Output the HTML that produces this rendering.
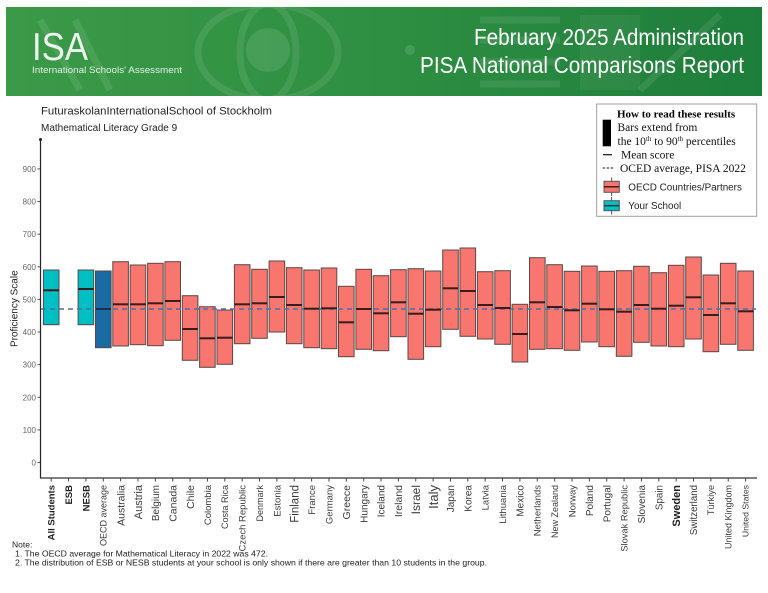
<!DOCTYPE html>
<html><head><meta charset="utf-8"><style>
html,body{margin:0;padding:0;background:#fff;}
svg{display:block;}
</style></head><body>
<svg width="768" height="593" viewBox="0 0 768 593" xmlns="http://www.w3.org/2000/svg">
<defs>
<linearGradient id="g" x1="0" y1="0" x2="1" y2="0">
<stop offset="0" stop-color="#3b9a48"/>
<stop offset="0.5" stop-color="#2e8f42"/>
<stop offset="1" stop-color="#1d7d3b"/>
</linearGradient>
</defs>
<rect width="768" height="593" fill="#fff"/>
<!-- Header banner -->
<rect x="6" y="7" width="756" height="89" fill="url(#g)"/>
<g fill="none" stroke="#ffffff" stroke-opacity="0.09" stroke-width="7">
<ellipse cx="268" cy="52" rx="70" ry="48"/>
<ellipse cx="268" cy="52" rx="28" ry="48"/>
<path d="M40 20 L80 90 M75 20 L110 90"/>
<path d="M480 20 L560 20 M480 40 L560 40 M480 62 L560 62 M480 84 L560 84"/>
<path d="M640 90 L720 15"/>
</g>
<circle cx="268" cy="50" r="22" fill="#fff" fill-opacity="0.1"/>
<circle cx="410" cy="50" r="5" fill="#fff" fill-opacity="0.12"/>
<rect x="580" y="15" width="60" height="75" fill="#fff" fill-opacity="0.05"/>
<text x="32" y="60" font-family="Liberation Sans, sans-serif" font-size="39" fill="#eef6ee" textLength="56" lengthAdjust="spacingAndGlyphs">ISA</text>
<text x="32" y="73" font-family="Liberation Sans, sans-serif" font-size="9.5" fill="#e4f0e4" textLength="150" lengthAdjust="spacingAndGlyphs">International Schools' Assessment</text>
<text x="744" y="45" text-anchor="end" font-family="Liberation Sans, sans-serif" font-size="23" fill="#fff" textLength="270" lengthAdjust="spacingAndGlyphs">February 2025 Administration</text>
<text x="744" y="73" text-anchor="end" font-family="Liberation Sans, sans-serif" font-size="23" fill="#fff" textLength="324" lengthAdjust="spacingAndGlyphs">PISA National Comparisons Report</text>

<!-- Titles -->
<text x="41" y="114.7" font-family="Liberation Sans, sans-serif" font-size="11.3" fill="#222" textLength="231" lengthAdjust="spacingAndGlyphs">FuturaskolanInternationalSchool of Stockholm</text>
<text x="41" y="130.8" font-family="Liberation Sans, sans-serif" font-size="10" fill="#222">Mathematical Literacy Grade 9</text>

<!-- Legend -->
<rect x="596.7" y="104" width="160" height="112.3" fill="#fff" stroke="#a0a0a0" stroke-width="1"/>
<text x="617" y="117.5" font-family="Liberation Serif, serif" font-size="11" font-weight="bold" fill="#000">How to read these results</text>
<rect x="602.7" y="119.7" width="8.3" height="26.6" fill="#000"/>
<text x="617.5" y="131" font-family="Liberation Serif, serif" font-size="11.5" fill="#111">Bars extend from</text>
<text x="617.5" y="145" font-family="Liberation Serif, serif" font-size="11.5" fill="#111">the 10<tspan font-size="7" dy="-4">th</tspan><tspan dy="4"> to 90</tspan><tspan font-size="7" dy="-4">th</tspan><tspan dy="4"> percentiles</tspan></text>
<line x1="603" y1="154.7" x2="612" y2="154.7" stroke="#111" stroke-width="1.2"/>
<text x="621" y="158.7" font-family="Liberation Serif, serif" font-size="11.5" fill="#111">Mean score</text>
<line x1="602.7" y1="168" x2="614" y2="168" stroke="#111" stroke-width="1.1" stroke-dasharray="2.4,1.6"/>
<text x="620" y="172" font-family="Liberation Serif, serif" font-size="11.5" fill="#111">OCED average, PISA 2022</text>
<line x1="611.6" y1="177.5" x2="611.6" y2="196" stroke="#555" stroke-width="1"/>
<rect x="604" y="181.3" width="15.3" height="11" fill="#f8766d" stroke="#555" stroke-width="1"/>
<line x1="604" y1="186.8" x2="619.3" y2="186.8" stroke="#3b1e1e" stroke-width="1.5"/>
<text x="628.3" y="190.5" font-family="Liberation Sans, sans-serif" font-size="9.9" fill="#222">OECD Countries/Partners</text>
<line x1="611.6" y1="197" x2="611.6" y2="214.5" stroke="#555" stroke-width="1"/>
<rect x="604" y="200.7" width="15.3" height="10" fill="#00bfc4" stroke="#555" stroke-width="1"/>
<line x1="604" y1="205.7" x2="619.3" y2="205.7" stroke="#1e3a3a" stroke-width="1.5"/>
<text x="628.3" y="209.2" font-family="Liberation Sans, sans-serif" font-size="9.9" fill="#222">Your School</text>

<!-- Y axis -->
<text transform="translate(17.5,308.7) rotate(-90)" text-anchor="middle" font-family="Liberation Sans, sans-serif" font-size="10" fill="#222">Proficiency Scale</text>
<g font-family="Liberation Sans, sans-serif" font-size="8" fill="#666" text-anchor="end">
<text x="36" y="465.5">0</text>
<text x="36" y="432.9">100</text>
<text x="36" y="400.3">200</text>
<text x="36" y="367.6">300</text>
<text x="36" y="335.0">400</text>
<text x="36" y="302.4">500</text>
<text x="36" y="269.8">600</text>
<text x="36" y="237.2">700</text>
<text x="36" y="204.5">800</text>
<text x="36" y="171.9">900</text>
</g>
<g stroke="#555" stroke-width="1">
<line x1="37.5" y1="462.5" x2="40.5" y2="462.5"/>
<line x1="37.5" y1="429.9" x2="40.5" y2="429.9"/>
<line x1="37.5" y1="397.3" x2="40.5" y2="397.3"/>
<line x1="37.5" y1="364.6" x2="40.5" y2="364.6"/>
<line x1="37.5" y1="332.0" x2="40.5" y2="332.0"/>
<line x1="37.5" y1="299.4" x2="40.5" y2="299.4"/>
<line x1="37.5" y1="266.8" x2="40.5" y2="266.8"/>
<line x1="37.5" y1="234.2" x2="40.5" y2="234.2"/>
<line x1="37.5" y1="201.5" x2="40.5" y2="201.5"/>
<line x1="37.5" y1="168.9" x2="40.5" y2="168.9"/>
</g>
<line x1="40.5" y1="139" x2="40.5" y2="478.5" stroke="#222" stroke-width="1.2"/>
<circle cx="40.5" cy="139.5" r="1.5" fill="#222"/>
<line x1="40" y1="478" x2="757" y2="478" stroke="#333" stroke-width="1.2"/>

<!-- Bars -->
<g stroke="#5a4848" stroke-width="1">
<rect x="43.4" y="270" width="15.6" height="54.7" fill="#00bfc4"/>
<rect x="78.1" y="270" width="15.6" height="54.7" fill="#00bfc4"/>
<rect x="95.5" y="271" width="15.6" height="76.7" fill="#1a6aa3"/>
<g fill="#f8766d">
<rect x="112.8" y="261.7" width="15.6" height="84.3"/>
<rect x="130.2" y="265" width="15.6" height="79.7"/>
<rect x="147.6" y="263.3" width="15.6" height="82.4"/>
<rect x="164.9" y="261.7" width="15.6" height="78.6"/>
<rect x="182.3" y="295.7" width="15.6" height="64.6"/>
<rect x="199.6" y="306.7" width="15.6" height="60.6"/>
<rect x="217.0" y="310" width="15.6" height="54.3"/>
<rect x="234.4" y="264.7" width="15.6" height="79"/>
<rect x="251.7" y="269.3" width="15.6" height="69"/>
<rect x="269.1" y="261" width="15.6" height="71"/>
<rect x="286.4" y="267.7" width="15.6" height="76"/>
<rect x="303.8" y="270" width="15.6" height="77.7"/>
<rect x="321.2" y="268" width="15.6" height="80.7"/>
<rect x="338.5" y="286.3" width="15.6" height="70.4"/>
<rect x="355.9" y="269.3" width="15.6" height="80"/>
<rect x="373.2" y="275.7" width="15.6" height="75"/>
<rect x="390.6" y="269.7" width="15.6" height="67"/>
<rect x="408.0" y="268.7" width="15.6" height="90.6"/>
<rect x="425.3" y="271" width="15.6" height="75.7"/>
<rect x="442.7" y="250" width="15.6" height="79.3"/>
<rect x="460.0" y="248" width="15.6" height="88.3"/>
<rect x="477.4" y="271.7" width="15.6" height="67.3"/>
<rect x="494.8" y="270.7" width="15.6" height="73.6"/>
<rect x="512.1" y="304.3" width="15.6" height="57.7"/>
<rect x="529.5" y="257.7" width="15.6" height="91.6"/>
<rect x="546.8" y="264.7" width="15.6" height="84"/>
<rect x="564.2" y="271.3" width="15.6" height="79"/>
<rect x="581.6" y="266" width="15.6" height="76"/>
<rect x="598.9" y="271.3" width="15.6" height="75.4"/>
<rect x="616.3" y="270.7" width="15.6" height="85.6"/>
<rect x="633.6" y="266.3" width="15.6" height="76"/>
<rect x="651.0" y="272.7" width="15.6" height="73.3"/>
<rect x="668.4" y="265.3" width="15.6" height="81.4"/>
<rect x="685.7" y="257" width="15.6" height="82"/>
<rect x="703.1" y="275" width="15.6" height="76.7"/>
<rect x="720.4" y="263.3" width="15.6" height="81"/>
<rect x="737.8" y="271" width="15.6" height="79.3"/>
</g>
</g>

<!-- OECD dashed line -->
<line x1="41" y1="309" x2="756" y2="309" stroke="#4f6fa8" stroke-width="1.4" stroke-dasharray="5,4"/>

<!-- Means -->
<g stroke="#3a1c1c" stroke-width="2">
<line x1="43.4" y1="290.3" x2="59" y2="290.3"/>
<line x1="78.1" y1="289" x2="93.7" y2="289"/>
<line x1="95.5" y1="309" x2="111.1" y2="309" stroke="#15324a"/>
<line x1="112.8" y1="304.3" x2="128.4" y2="304.3"/>
<line x1="130.2" y1="304.3" x2="145.8" y2="304.3"/>
<line x1="147.6" y1="303.3" x2="163.2" y2="303.3"/>
<line x1="164.9" y1="301" x2="180.5" y2="301"/>
<line x1="182.3" y1="329" x2="197.9" y2="329"/>
<line x1="199.6" y1="338.3" x2="215.2" y2="338.3"/>
<line x1="217.0" y1="337.7" x2="232.6" y2="337.7"/>
<line x1="234.4" y1="304.3" x2="250" y2="304.3"/>
<line x1="251.7" y1="303.3" x2="267.3" y2="303.3"/>
<line x1="269.1" y1="297" x2="284.7" y2="297"/>
<line x1="286.4" y1="305" x2="302" y2="305"/>
<line x1="303.8" y1="308.7" x2="319.4" y2="308.7"/>
<line x1="321.2" y1="308.3" x2="336.8" y2="308.3"/>
<line x1="338.5" y1="322.3" x2="354.1" y2="322.3"/>
<line x1="355.9" y1="309" x2="371.5" y2="309"/>
<line x1="373.2" y1="313.3" x2="388.8" y2="313.3"/>
<line x1="390.6" y1="302.3" x2="406.2" y2="302.3"/>
<line x1="408.0" y1="313.7" x2="423.6" y2="313.7"/>
<line x1="425.3" y1="309.7" x2="440.9" y2="309.7"/>
<line x1="442.7" y1="288.3" x2="458.3" y2="288.3"/>
<line x1="460.0" y1="291" x2="475.6" y2="291"/>
<line x1="477.4" y1="305" x2="493" y2="305"/>
<line x1="494.8" y1="308" x2="510.4" y2="308"/>
<line x1="512.1" y1="334" x2="527.7" y2="334"/>
<line x1="529.5" y1="302.3" x2="545.1" y2="302.3"/>
<line x1="546.8" y1="307" x2="562.4" y2="307"/>
<line x1="564.2" y1="310.3" x2="579.8" y2="310.3"/>
<line x1="581.6" y1="303.7" x2="597.2" y2="303.7"/>
<line x1="598.9" y1="309.3" x2="614.5" y2="309.3"/>
<line x1="616.3" y1="311.7" x2="631.9" y2="311.7"/>
<line x1="633.6" y1="305" x2="649.2" y2="305"/>
<line x1="651.0" y1="308.7" x2="666.6" y2="308.7"/>
<line x1="668.4" y1="305.7" x2="684" y2="305.7"/>
<line x1="685.7" y1="297.3" x2="701.3" y2="297.3"/>
<line x1="703.1" y1="315" x2="718.7" y2="315"/>
<line x1="720.4" y1="303.3" x2="736" y2="303.3"/>
<line x1="737.8" y1="311.3" x2="753.4" y2="311.3"/>
</g>

<!-- X ticks -->
<g stroke="#444" stroke-width="1">
<line x1="51.2" y1="478" x2="51.2" y2="481.5"/><line x1="68.56" y1="478" x2="68.56" y2="481.5"/><line x1="85.92" y1="478" x2="85.92" y2="481.5"/><line x1="103.28" y1="478" x2="103.28" y2="481.5"/><line x1="120.64" y1="478" x2="120.64" y2="481.5"/><line x1="138" y1="478" x2="138" y2="481.5"/><line x1="155.36" y1="478" x2="155.36" y2="481.5"/><line x1="172.72" y1="478" x2="172.72" y2="481.5"/><line x1="190.08" y1="478" x2="190.08" y2="481.5"/><line x1="207.44" y1="478" x2="207.44" y2="481.5"/><line x1="224.8" y1="478" x2="224.8" y2="481.5"/><line x1="242.16" y1="478" x2="242.16" y2="481.5"/><line x1="259.52" y1="478" x2="259.52" y2="481.5"/><line x1="276.88" y1="478" x2="276.88" y2="481.5"/><line x1="294.24" y1="478" x2="294.24" y2="481.5"/><line x1="311.6" y1="478" x2="311.6" y2="481.5"/><line x1="328.96" y1="478" x2="328.96" y2="481.5"/><line x1="346.32" y1="478" x2="346.32" y2="481.5"/><line x1="363.68" y1="478" x2="363.68" y2="481.5"/><line x1="381.04" y1="478" x2="381.04" y2="481.5"/><line x1="398.4" y1="478" x2="398.4" y2="481.5"/><line x1="415.76" y1="478" x2="415.76" y2="481.5"/><line x1="433.12" y1="478" x2="433.12" y2="481.5"/><line x1="450.48" y1="478" x2="450.48" y2="481.5"/><line x1="467.84" y1="478" x2="467.84" y2="481.5"/><line x1="485.2" y1="478" x2="485.2" y2="481.5"/><line x1="502.56" y1="478" x2="502.56" y2="481.5"/><line x1="519.92" y1="478" x2="519.92" y2="481.5"/><line x1="537.28" y1="478" x2="537.28" y2="481.5"/><line x1="554.64" y1="478" x2="554.64" y2="481.5"/><line x1="572" y1="478" x2="572" y2="481.5"/><line x1="589.36" y1="478" x2="589.36" y2="481.5"/><line x1="606.72" y1="478" x2="606.72" y2="481.5"/><line x1="624.08" y1="478" x2="624.08" y2="481.5"/><line x1="641.44" y1="478" x2="641.44" y2="481.5"/><line x1="658.8" y1="478" x2="658.8" y2="481.5"/><line x1="676.16" y1="478" x2="676.16" y2="481.5"/><line x1="693.52" y1="478" x2="693.52" y2="481.5"/><line x1="710.88" y1="478" x2="710.88" y2="481.5"/><line x1="728.24" y1="478" x2="728.24" y2="481.5"/><line x1="745.6" y1="478" x2="745.6" y2="481.5"/>
</g>

<!-- X labels -->
<g font-family="Liberation Sans, sans-serif" fill="#3a3a3a" text-anchor="end">
<text transform="translate(54.6,485) rotate(-90)" font-size="9.5" font-weight="bold" fill="#222">All Students</text>
<text transform="translate(72,485) rotate(-90)" font-size="9.5" font-weight="bold" fill="#222">ESB</text>
<text transform="translate(89.3,485) rotate(-90)" font-size="9.5" font-weight="bold" fill="#222">NESB</text>
<text transform="translate(106.5,485) rotate(-90)" font-size="9">OECD average</text>
<text transform="translate(124.4,485) rotate(-90)" font-size="10.5">Australia</text>
<text transform="translate(142,485) rotate(-90)" font-size="11">Austria</text>
<text transform="translate(159,485) rotate(-90)" font-size="10">Belgium</text>
<text transform="translate(176.5,485) rotate(-90)" font-size="10.5">Canada</text>
<text transform="translate(193.9,485) rotate(-90)" font-size="10.5">Chile</text>
<text transform="translate(210.9,485) rotate(-90)" font-size="9.5">Colombia</text>
<text transform="translate(228.1,485) rotate(-90)" font-size="9">Costa Rica</text>
<text transform="translate(245.6,485) rotate(-90)" font-size="9.5">Czech Republic</text>
<text transform="translate(262.8,485) rotate(-90)" font-size="9">Denmark</text>
<text transform="translate(280.3,485) rotate(-90)" font-size="9.5">Estonia</text>
<text transform="translate(298.4,485) rotate(-90)" font-size="11.5">Finland</text>
<text transform="translate(315,485) rotate(-90)" font-size="9.5">France</text>
<text transform="translate(332.4,485) rotate(-90)" font-size="9.5">Germany</text>
<text transform="translate(350.1,485) rotate(-90)" font-size="10.5">Greece</text>
<text transform="translate(367.3,485) rotate(-90)" font-size="10">Hungary</text>
<text transform="translate(384.6,485) rotate(-90)" font-size="10">Iceland</text>
<text transform="translate(402.2,485) rotate(-90)" font-size="10.5">Ireland</text>
<text transform="translate(420.1,485) rotate(-90)" font-size="12">Israel</text>
<text transform="translate(437.8,485) rotate(-90)" font-size="13">Italy</text>
<text transform="translate(454.1,485) rotate(-90)" font-size="10">Japan</text>
<text transform="translate(471.4,485) rotate(-90)" font-size="10">Korea</text>
<text transform="translate(488.6,485) rotate(-90)" font-size="9.5">Latvia</text>
<text transform="translate(506,485) rotate(-90)" font-size="9.5">Lithuania</text>
<text transform="translate(523.5,485) rotate(-90)" font-size="10">Mexico</text>
<text transform="translate(540.7,485) rotate(-90)" font-size="9.5">Netherlands</text>
<text transform="translate(557.9,485) rotate(-90)" font-size="9">New Zealand</text>
<text transform="translate(575.4,485) rotate(-90)" font-size="9.5">Norway</text>
<text transform="translate(593,485) rotate(-90)" font-size="10">Poland</text>
<text transform="translate(610.3,485) rotate(-90)" font-size="10">Portugal</text>
<text transform="translate(627.4,485) rotate(-90)" font-size="9.3">Slovak Republic</text>
<text transform="translate(645,485) rotate(-90)" font-size="10">Slovenia</text>
<text transform="translate(662.3,485) rotate(-90)" font-size="9.8">Spain</text>
<text transform="translate(680.1,485) rotate(-90)" font-size="11" font-weight="bold" fill="#222">Sweden</text>
<text transform="translate(697,485) rotate(-90)" font-size="9.7">Switzerland</text>
<text transform="translate(714.2,485) rotate(-90)" font-size="9.2">Türkiye</text>
<text transform="translate(731.5,485) rotate(-90)" font-size="9">United Kingdom</text>
<text transform="translate(748.7,485) rotate(-90)" font-size="8.7">United States</text>
</g>

<!-- Notes -->
<g font-family="Liberation Sans, sans-serif" font-size="8.5" fill="#222">
<text x="12" y="547.6">Note:</text>
<text x="15" y="556.6" textLength="253" lengthAdjust="spacingAndGlyphs">1. The OECD average for Mathematical Literacy in 2022 was 472.</text>
<text x="15" y="565.3" textLength="472" lengthAdjust="spacingAndGlyphs">2. The distribution of ESB or NESB students at your school is only shown if there are greater than 10 students in the group.</text>
</g>
</svg>
</body></html>
